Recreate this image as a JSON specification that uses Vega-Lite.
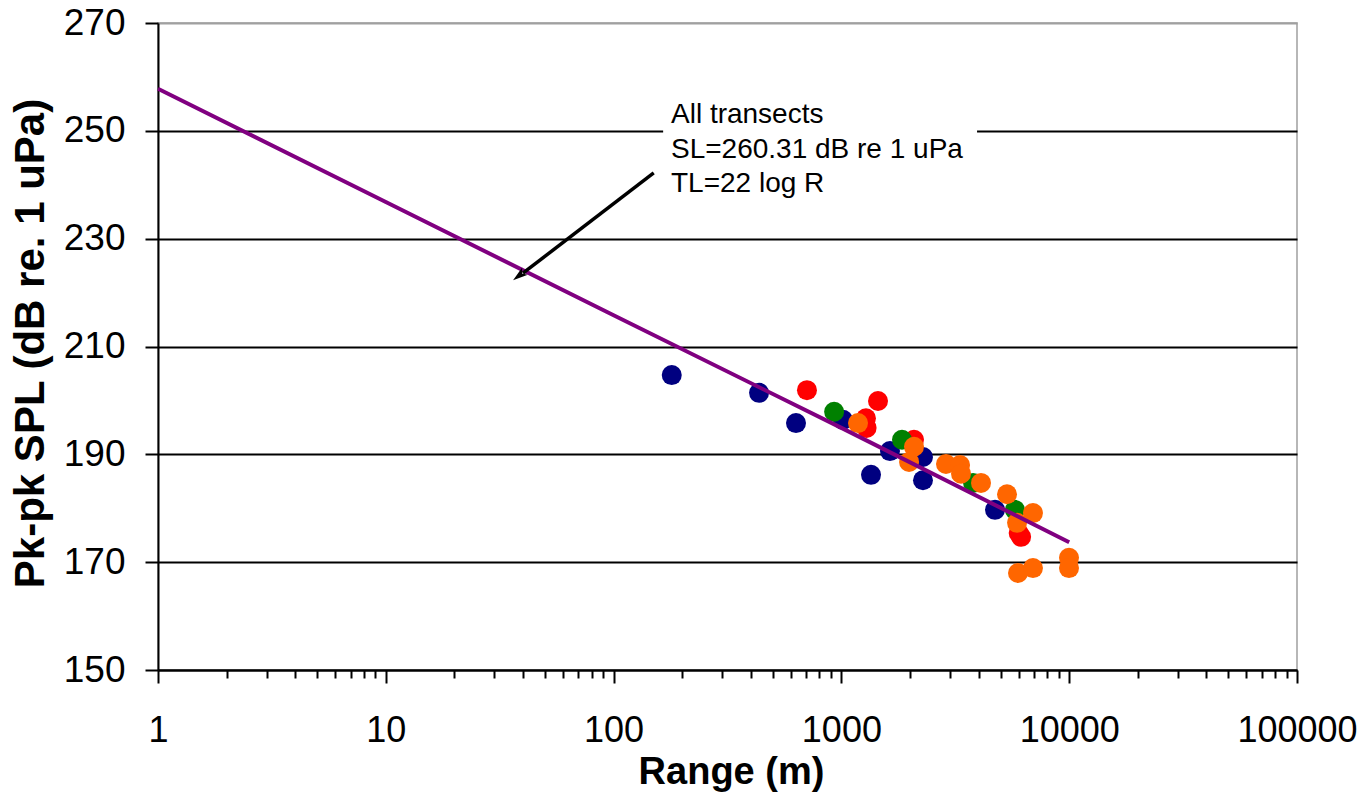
{
  "$schema": "https://vega.github.io/schema/vega-lite/v6.json",
  "width": 1139,
  "height": 647,
  "autosize": "none",
  "padding": {"left": 158, "top": 23, "right": 71, "bottom": 125},
  "background": "white",
  "config": {
    "view": {"stroke": "#a0a0a0", "strokeWidth": 1.5},
    "font": "Liberation Sans"
  },
  "datasets": {
    "pts": [
      {"series": "Transect 1", "range": 180, "spl": 204.7},
      {"series": "Transect 1", "range": 435, "spl": 201.4},
      {"series": "Transect 1", "range": 632, "spl": 195.8},
      {"series": "Transect 1", "range": 1016, "spl": 196.4},
      {"series": "Transect 1", "range": 1349, "spl": 186.2},
      {"series": "Transect 1", "range": 1634, "spl": 190.6},
      {"series": "Transect 1", "range": 2281, "spl": 189.5},
      {"series": "Transect 1", "range": 2281, "spl": 185.2},
      {"series": "Transect 1", "range": 4725, "spl": 179.7},
      {"series": "Transect 2", "range": 706, "spl": 201.9},
      {"series": "Transect 2", "range": 1448, "spl": 199.9},
      {"series": "Transect 2", "range": 1282, "spl": 196.7},
      {"series": "Transect 2", "range": 1290, "spl": 194.9},
      {"series": "Transect 2", "range": 2083, "spl": 192.7},
      {"series": "Transect 2", "range": 6000, "spl": 175.4},
      {"series": "Transect 2", "range": 6150, "spl": 174.7},
      {"series": "Transect 3", "range": 929, "spl": 197.9},
      {"series": "Transect 3", "range": 1845, "spl": 192.7},
      {"series": "Transect 3", "range": 3785, "spl": 184.7},
      {"series": "Transect 3", "range": 5781, "spl": 179.7},
      {"series": "Transect 4", "range": 1183, "spl": 195.8},
      {"series": "Transect 4", "range": 2083, "spl": 191.4},
      {"series": "Transect 4", "range": 1982, "spl": 188.6},
      {"series": "Transect 4", "range": 2878, "spl": 188.2},
      {"series": "Transect 4", "range": 3318, "spl": 188.0},
      {"series": "Transect 4", "range": 3350, "spl": 186.4},
      {"series": "Transect 4", "range": 4100, "spl": 184.7},
      {"series": "Transect 4", "range": 5333, "spl": 182.6},
      {"series": "Transect 4", "range": 5904, "spl": 177.3},
      {"series": "Transect 4", "range": 6934, "spl": 179.1},
      {"series": "Transect 4", "range": 5960, "spl": 168.0},
      {"series": "Transect 4", "range": 6934, "spl": 168.9},
      {"series": "Transect 4", "range": 9980, "spl": 170.8},
      {"series": "Transect 4", "range": 9980, "spl": 168.9}
    ],
    "fit": [
      {"range": 1, "spl": 257.8},
      {"range": 10, "spl": 236.8},
      {"range": 100, "spl": 215.8},
      {"range": 1000, "spl": 194.9},
      {"range": 10000, "spl": 173.7}
    ]
  },
  "layer": [
    {
      "data": {"values": [{}]},
      "mark": {"type": "rect", "color": "white"},
      "encoding": {
        "x": {"datum": 165, "type": "quantitative", "scale": {"type": "log", "domain": [1, 100000]}},
        "x2": {"datum": 3940},
        "y": {"datum": 234, "type": "quantitative", "scale": {"domain": [150, 270]}},
        "y2": {"datum": 266}
      }
    },
    {
      "data": {"name": "pts"},
      "mark": {"type": "point", "shape": "circle", "filled": true, "opacity": 1, "size": 400},
      "encoding": {
        "x": {
          "field": "range", "type": "quantitative",
          "scale": {"type": "log", "domain": [1, 100000]},
          "axis": {
            "values": [1,2,3,4,5,6,7,8,9,10,20,30,40,50,60,70,80,90,100,200,300,400,500,600,700,800,900,1000,2000,3000,4000,5000,6000,7000,8000,9000,10000,20000,30000,40000,50000,60000,70000,80000,90000,100000],
            "format": "d",
            "labelExpr": "(datum.value==1||datum.value==10||datum.value==100||datum.value==1000||datum.value==10000||datum.value==100000) ? datum.label : ''",
            "tickSize": {"condition": {"test": "datum.value==1||datum.value==10||datum.value==100||datum.value==1000||datum.value==10000||datum.value==100000", "value": 13}, "value": 8},
            "grid": false,
            "domainColor": "black", "domainWidth": 2,
            "tickColor": "black", "tickWidth": 2,
            "labelFontSize": 36, "labelFont": "Liberation Sans", "labelColor": "black",
            "labelPadding": 30, "labelOverlap": false, "labelFlush": false,
            "title": "Range (m)", "titleFontSize": 38, "titleFontWeight": "bold", "titleColor": "black",
            "titleFont": "Liberation Sans", "titleX": 573, "titleY": 113, "titleBaseline": "alphabetic", "titleAlign": "center"
          }
        },
        "y": {
          "field": "spl", "type": "quantitative",
          "scale": {"domain": [150, 270]},
          "axis": {
            "values": [150, 170, 190, 210, 230, 250, 270],
            "grid": true,
            "gridColor": {"condition": {"test": "datum.value==270", "value": "#a0a0a0"}, "value": "black"},
            "gridWidth": 2,
            "domainColor": "black", "domainWidth": 2,
            "tickColor": "black", "tickWidth": 2, "tickSize": 13,
            "labelFontSize": 37, "labelFont": "Liberation Sans", "labelColor": "black",
            "labelPadding": 20,
            "title": "Pk-pk SPL (dB re. 1 uPa)", "titleFontSize": 42, "titleFontWeight": "bold", "titleColor": "black",
            "titleFont": "Liberation Sans", "titleX": -115, "titleY": 320, "titleBaseline": "alphabetic", "titleAlign": "center", "titleAngle": -90
          }
        },
        "color": {
          "field": "series", "type": "nominal",
          "scale": {"domain": ["Transect 1", "Transect 2", "Transect 3", "Transect 4"], "range": ["#000080", "#FF0000", "#008000", "#FF6600"]},
          "legend": null
        }
      }
    },
    {
      "data": {"name": "fit"},
      "mark": {"type": "line", "color": "#800080", "strokeWidth": 4},
      "encoding": {
        "x": {"field": "range", "type": "quantitative", "scale": {"type": "log", "domain": [1, 100000]}},
        "y": {"field": "spl", "type": "quantitative", "scale": {"domain": [150, 270]}}
      }
    },
    {
      "data": {"values": [{}]},
      "mark": {"type": "rule", "color": "black", "strokeWidth": 3.5},
      "encoding": {
        "x": {"datum": 150, "type": "quantitative", "scale": {"type": "log", "domain": [1, 100000]}},
        "y": {"datum": 242.2, "type": "quantitative", "scale": {"domain": [150, 270]}},
        "x2": {"datum": 40},
        "y2": {"datum": 223.6}
      }
    },
    {
      "data": {"values": [{}]},
      "mark": {"type": "point", "shape": "M0,0L0.5,1.6L0,1.2L-0.5,1.6Z", "filled": true, "opacity": 1, "color": "black", "size": 350, "angle": 232.8},
      "encoding": {
        "x": {"datum": 36.2, "type": "quantitative", "scale": {"type": "log", "domain": [1, 100000]}},
        "y": {"datum": 222.3, "type": "quantitative", "scale": {"domain": [150, 270]}}
      }
    },
    {
      "data": {"values": [{}]},
      "mark": {"type": "text", "text": ["All transects", "SL=260.31 dB re 1 uPa", "TL=22 log R"], "align": "left", "baseline": "alphabetic", "fontSize": 28, "lineHeight": 34.5, "font": "Liberation Sans", "color": "black"},
      "encoding": {
        "x": {"datum": 178.6, "type": "quantitative", "scale": {"type": "log", "domain": [1, 100000]}},
        "y": {"datum": 251.45, "type": "quantitative", "scale": {"domain": [150, 270]}}
      }
    }
  ]
}
